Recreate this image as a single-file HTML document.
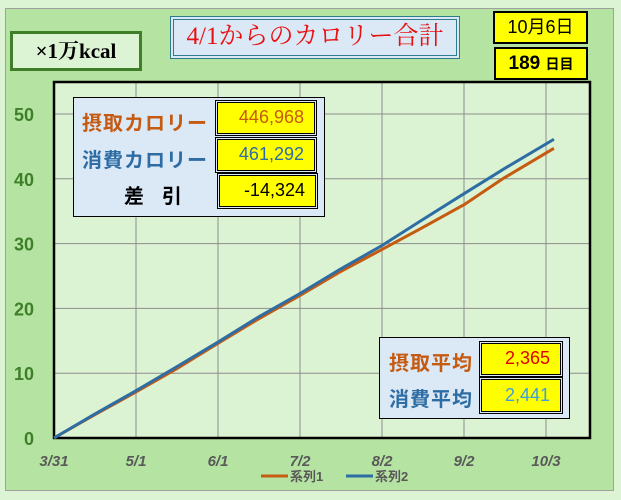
<!DOCTYPE html>
<html><head><meta charset="utf-8"><style>
body{margin:0;width:621px;height:500px;overflow:hidden;background:#dcf3d4;font-family:"Liberation Sans","Noto Sans CJK JP",sans-serif}
.abs{position:absolute;box-sizing:border-box}
.yel{background:#ffff00;border:1.5px solid #000;outline:1px solid #000;outline-offset:1px;text-align:right;padding-right:10px;font-size:18px}
.lab{font-size:20px;font-weight:bold;letter-spacing:1px;white-space:nowrap}
</style></head><body>
<div class="abs" style="left:5px;top:8px;width:609px;height:483px;background:#b5e4a2;border:1px solid #a0a0a0"></div>
<svg class="abs" style="left:0;top:0" width="621" height="500" id="svg"></svg>
<div class="abs" style="left:10px;top:31px;width:132px;height:40px;background:#dcf3d4;border:3px solid #3f7f2a;font-family:'Liberation Serif','Noto Serif CJK SC',serif;font-weight:bold;font-size:21px;text-align:center;line-height:34px">×1万kcal</div>
<div class="abs" style="left:170px;top:16px;width:290px;height:43px;background:#dbe8f6;border:4px double #2e7c8c;color:#e81010;font-family:'Liberation Serif','Noto Serif CJK JP',serif;font-size:25px;text-align:center;line-height:34px;white-space:nowrap;overflow:hidden">4/1からのカロリー合計</div>
<div class="abs" style="left:493px;top:11px;width:95px;height:33px;background:#ff0;border:2px solid #000;font-size:18px;text-align:center;line-height:29px">10月6日</div>
<div class="abs" style="left:494px;top:47px;width:94px;height:33px;background:#ff0;border:2px solid #000;font-size:19px;font-weight:bold;text-align:center;line-height:29px">189 <span style="font-size:14px">日目</span></div>
<div class="abs" style="left:73px;top:97px;width:252px;height:120px;background:#dbe8f6;border:1px solid #000">
 <div class="abs lab" style="left:8px;top:9px;color:#c55a11">摂取カロリー</div>
 <div class="abs yel" style="left:143px;top:4px;width:98px;height:32px;line-height:29px;color:#c55a11">446,968</div>
 <div class="abs lab" style="left:8px;top:46px;color:#2e6da4">消費カロリー</div>
 <div class="abs yel" style="left:143px;top:41px;width:98px;height:32px;line-height:29px;color:#2e6da4">461,292</div>
 <div class="abs lab" style="left:50px;top:82px;color:#000;letter-spacing:18px">差引</div>
 <div class="abs yel" style="left:145px;top:77px;width:97px;height:32px;line-height:29px;color:#000">-14,324</div>
</div>
<div class="abs" style="left:379px;top:337px;width:191px;height:82px;background:#dbe8f6;border:1px solid #000">
 <div class="abs lab" style="left:9px;top:9px;color:#c55a11">摂取平均</div>
 <div class="abs yel" style="left:101px;top:5px;width:80px;height:32px;line-height:29px;color:#e00000">2,365</div>
 <div class="abs lab" style="left:9px;top:45px;color:#2e6da4">消費平均</div>
 <div class="abs yel" style="left:101px;top:41px;width:80px;height:33px;line-height:30px;color:#3a9ee0">2,441</div>
</div>
<script>
const days=[0,15,31,46,62,77,93,108,124,139,155,170,189];
const series1=[0,3.5,7.1,10.6,14.6,18.3,22.0,25.6,29.1,32.4,36.0,40.1,44.7];
const series2=[0,3.6,7.3,10.9,14.8,18.6,22.3,26.0,29.7,33.6,37.7,41.5,46.1];
const yTicks=[0,10,20,30,40,50];
const xTickDays=[0,31,62,93,124,155,186];
const xTickLabels=["3/31","5/1","6/1","7/2","8/2","9/2","10/3"];
const L=54,R=590,T=82,B=438;
const xs=d=>L+d*(546-L)/186;
const ys=v=>B-v*(B-114)/50;
const svg=document.getElementById('svg');
const NS='http://www.w3.org/2000/svg';
function mk(t,a){const e=document.createElementNS(NS,t);for(const k in a)e.setAttribute(k,a[k]);svg.appendChild(e);return e;}
let bg=mk('rect',{x:L,y:T,width:R-L,height:B-T,fill:'#dbf3d3'});


yTicks.forEach(v=>{
 let g=mk('line',{x1:L,x2:R,y1:ys(v),y2:ys(v),stroke:'#8c8c8c','stroke-width':1});
 
 
 let t=mk('text',{x:34,y:ys(v)+7,'text-anchor':'end','font-size':18,'font-weight':'bold',fill:'#3f7f2a','font-family':'Liberation Sans, sans-serif'});
 t.textContent=v;
 
 
});
xTickDays.forEach((d,i)=>{
 if(i>0){let g=mk('line',{x1:xs(d),x2:xs(d),y1:T,y2:B,stroke:'#8c8c8c','stroke-width':1});
 
 }
 let t=mk('text',{x:xs(d),y:466,'text-anchor':'middle','font-size':15,'font-weight':'bold','font-style':'italic',fill:'#595959','font-family':'Liberation Sans, sans-serif'});
 t.textContent=xTickLabels[i];
 
 
});
let fr=mk('rect',{x:L,y:T,width:R-L,height:B-T,fill:'none',stroke:'#000','stroke-width':2.5});


[[series1,'#c55a11','series1-line'],[series2,'#2e6da4','series2-line']].forEach(([s,c,n])=>{
 let p=mk('polyline',{points:s.map((v,i)=>xs(days[i])+','+ys(v)).join(' '),fill:'none',stroke:c,'stroke-width':3,'stroke-linejoin':'round'});
 
 
});
[['#c55a11','系列1',261],['#2e6da4','系列2',346]].forEach(([c,l,x])=>{
 let ln=mk('line',{x1:x,x2:x+27,y1:476,y2:476,stroke:c,'stroke-width':3});
 
 
 let t=mk('text',{x:x+29,y:481,'font-size':13,'font-weight':'bold',fill:'#595959','font-family':'Liberation Sans, Noto Sans CJK JP, sans-serif'});
 t.textContent=l;
 
 
});
</script>
</body></html>
